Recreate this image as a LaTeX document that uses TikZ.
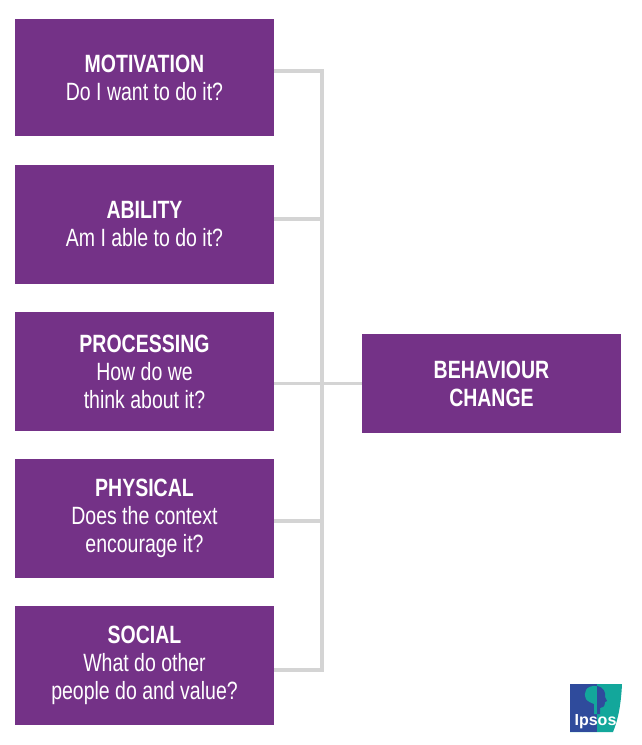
\documentclass[tikz,border=0pt]{standalone}
\usepackage{fontspec}
\setmainfont{Liberation Sans}
\newfontfamily\condreg[FakeStretch=0.78]{Liberation Sans}
\newfontfamily\condbold[FakeStretch=0.78]{Liberation Sans Bold}
\newfontfamily\logofont{Liberation Sans}
\definecolor{boxpurple}{HTML}{743287}
\definecolor{linegrey}{HTML}{D4D4D4}
\definecolor{ipblue}{HTML}{2F4B9C}
\definecolor{ipteal}{HTML}{13A79B}
\newcommand{\hd}[1]{{\condbold\fontsize{25}{28}\selectfont #1}}
\newcommand{\bd}[1]{{\condreg\fontsize{25}{28}\selectfont #1}}
\tikzset{
  cardbox/.style={fill=boxpurple,draw=none,minimum width=259pt,text=white,align=center,inner sep=0pt,font=\condreg\fontsize{25}{28}\selectfont},
  link/.style={draw=linegrey,line width=3.2pt}
}
\begin{document}
\begin{tikzpicture}[x=1pt,y=-1pt]
\useasboundingbox (0,0) rectangle (641,745);
\node[cardbox,minimum height=117pt] (a) at (144.5,77.5) {\hd{MOTIVATION}\\Do I want to do it?};
\node[cardbox,minimum height=119pt] (b) at (144.5,224.5) {\hd{ABILITY}\\Am I able to do it?};
\node[cardbox,minimum height=119pt] (c) at (144.5,371.5) {\hd{PROCESSING}\\How do we\\think about it?};
\node[cardbox,minimum height=119pt] (d) at (144.5,518.5) {\hd{PHYSICAL}\\Does the context\\encourage it?};
\node[cardbox,minimum height=119pt] (e) at (144.5,665.5) {\hd{SOCIAL}\\What do other\\people do and value?};
\node[cardbox,minimum height=99pt] (f) at (491.5,383.5) {\hd{BEHAVIOUR}\\\hd{CHANGE}};
\coordinate (ja) at (322,71);
\coordinate (jb) at (322,219);
\coordinate (jc) at (322,383.5);
\coordinate (jd) at (322,521);
\coordinate (je) at (322,670);
\begin{scope}[on background layer/.try]
\draw[link] (a.east |- ja) -- (ja) -- (je) -- (e.east |- je);
\draw[link] (b.east |- jb) -- (jb);
\draw[link] (c.east |- jc) -- (f.west |- jc);
\draw[link] (d.east |- jd) -- (jd);
\end{scope}
% logo
\fill[ipteal] (570,684) -- (622,684) .. controls (621,705) and (618,720) .. (613,732) -- (570,732) -- cycle;
\fill[ipblue] (570,684) -- (597,684) -- (597,732) -- (570,732) -- cycle;
\fill[ipteal] (597,686) .. controls (586,685) and (583,692) .. (586,699) .. controls (588,702) and (592,703) .. (594,704) -- (594,714) -- (597,714) -- cycle;
\fill[ipblue] (597,686) .. controls (604,687) and (606,693) .. (605,697) -- (607,701) -- (605,702) .. controls (605,707) and (602,708) .. (600,708) -- (600,714) -- (597,714) -- cycle;
\node[text=white,inner sep=0pt,font=\logofont\bfseries\fontsize{16}{16}\selectfont] (logo) at (595.5,722) {Ipsos};
\end{tikzpicture}
\end{document}
